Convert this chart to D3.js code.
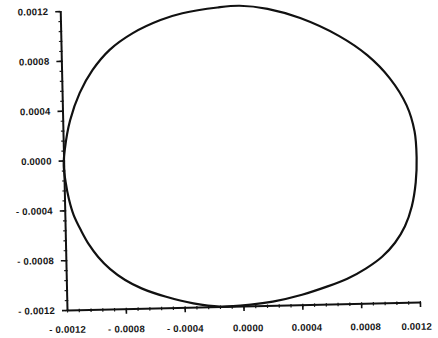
<!DOCTYPE html>
<html>
<head>
<meta charset="utf-8">
<script src="https://cdn.jsdelivr.net/npm/d3@7"></script>
<style>
  html, body { margin: 0; padding: 0; background: #fff; }
  svg { display: block; }
  .lbl text { font-family: "Liberation Sans", Arial, sans-serif; font-size: 9.6px; font-weight: bold; fill: #161616; letter-spacing: 0.2px; }
</style>
</head>
<body>
<svg id="chart" width="438" height="338"></svg>
<script>
// ---- data ----
const curveX = [-0.00119, -0.00115, -0.00108, -0.00099, -0.00087, -0.00071, -0.00052, -0.00037, -0.00013, 0.00002,
                 0.00021, 0.00043, 0.00069, 0.00088, 0.00103, 0.00114, 0.00119, 0.00120, 0.00119, 0.00116,
                 0.00111, 0.00104, 0.00095, 0.00084, 0.00071, 0.00057, 0.00040, 0.00020, 0.00005, -0.00016,
                -0.00034, -0.00053, -0.00069, -0.00080, -0.00090, -0.00098, -0.00104, -0.00109, -0.00114, -0.00117,
                -0.00119, -0.00120];
const curveY = [ 0.00009, 0.00032, 0.00054, 0.00072, 0.00088, 0.00101, 0.00111, 0.00116, 0.00120, 0.00121,
                 0.00118, 0.00110, 0.00095, 0.00079, 0.00060, 0.00038, 0.00017, -0.00004, -0.00024, -0.00043,
                -0.00059, -0.00072, -0.00083, -0.00092, -0.00100, -0.00106, -0.00112, -0.00117, -0.00119, -0.00120,
                -0.00117, -0.00111, -0.00104, -0.00097, -0.00088, -0.00078, -0.00068, -0.00057, -0.00044, -0.00031,
                -0.00017, -0.00004];
const majorTicks = [-0.0012, -0.0008, -0.0004, 0.0000, 0.0004, 0.0008, 0.0012];
const tickLabels = ["- 0.0012", "- 0.0008", "- 0.0004", "0.0000", "0.0004", "0.0008", "0.0012"];
const minorTicks = [-0.0012, -0.00112, -0.00104, -0.00096, -0.00088, -0.0008, -0.00072, -0.00064, -0.00056, -0.00048,
                    -0.0004, -0.00032, -0.00024, -0.00016, -0.00008, 0, 0.00008, 0.00016, 0.00024, 0.00032,
                    0.0004, 0.00048, 0.00056, 0.00064, 0.00072, 0.0008, 0.00088, 0.00096, 0.00104, 0.00112, 0.0012];
const domainX = [-0.0012, 0.0012];
const domainY = [-0.0012, 0.0012];

// ---- drawing ----
const svg = d3.select("#chart");
const W = 353, H = 299;
const ox = 67, oy = 310, tilt = -1.3;

const x = d3.scaleLinear().domain(domainX).range([0, W]);
const y = d3.scaleLinear().domain(domainY).range([0, -H]);
const labelOf = v => tickLabels[majorTicks.indexOf(v)];

const g = svg.append("g").attr("transform", `translate(${ox},${oy}) rotate(${tilt})`);

// minor ticks (small marks crossing the axes)
g.append("g").call(d3.axisLeft(y).tickValues(minorTicks).tickSize(2).tickFormat(""))
  .call(s => s.select(".domain").remove())
  .call(s => s.selectAll("line").attr("x2", -2).attr("x1", 1.5).attr("stroke", "#222").attr("stroke-width", 1.2));
g.append("g").call(d3.axisBottom(x).tickValues(minorTicks).tickSize(2).tickFormat(""))
  .call(s => s.select(".domain").remove())
  .call(s => s.selectAll("line").attr("y1", -1).attr("y2", 2.5).attr("stroke", "#222").attr("stroke-width", 1.2));

// y axis with major ticks and labels
g.append("g").attr("class", "lbl")
  .call(d3.axisLeft(y).tickValues(majorTicks).tickSize(5).tickSizeOuter(0).tickPadding(7).tickFormat(labelOf))
  .call(s => s.select(".domain").attr("stroke", "#111").attr("stroke-width", 2))
  .call(s => s.selectAll("line").attr("stroke", "#111").attr("stroke-width", 1.6));

// x axis line and major ticks
g.append("g")
  .call(d3.axisBottom(x).tickValues(majorTicks.slice(1)).tickSize(5).tickSizeOuter(0).tickFormat(""))
  .call(s => s.select(".domain").attr("stroke", "#111").attr("stroke-width", 2))
  .call(s => s.selectAll("line").attr("stroke", "#111").attr("stroke-width", 1.6));

// x labels (slightly less tilted, as in the scan)
svg.append("g").attr("class", "lbl")
  .attr("transform", `translate(${ox},${oy}) rotate(-0.5)`)
  .call(d3.axisBottom(x).tickValues(majorTicks).tickSize(0).tickPadding(16).tickFormat(labelOf))
  .call(s => s.select(".domain").remove())
  .call(s => s.selectAll("text").attr("dx", d => d >= 0.0012 ? -4 : (d >= 0 ? 4 : 0)));

// the closed curve
const pts = curveX.map((v, i) => [v, curveY[i]]);
g.append("path")
  .datum(pts)
  .attr("fill", "none")
  .attr("stroke", "#111")
  .attr("stroke-width", 2.2)
  .attr("d", d3.line().x(d => x(d[0])).y(d => y(d[1])).curve(d3.curveCatmullRomClosed));
</script>
</body>
</html>
